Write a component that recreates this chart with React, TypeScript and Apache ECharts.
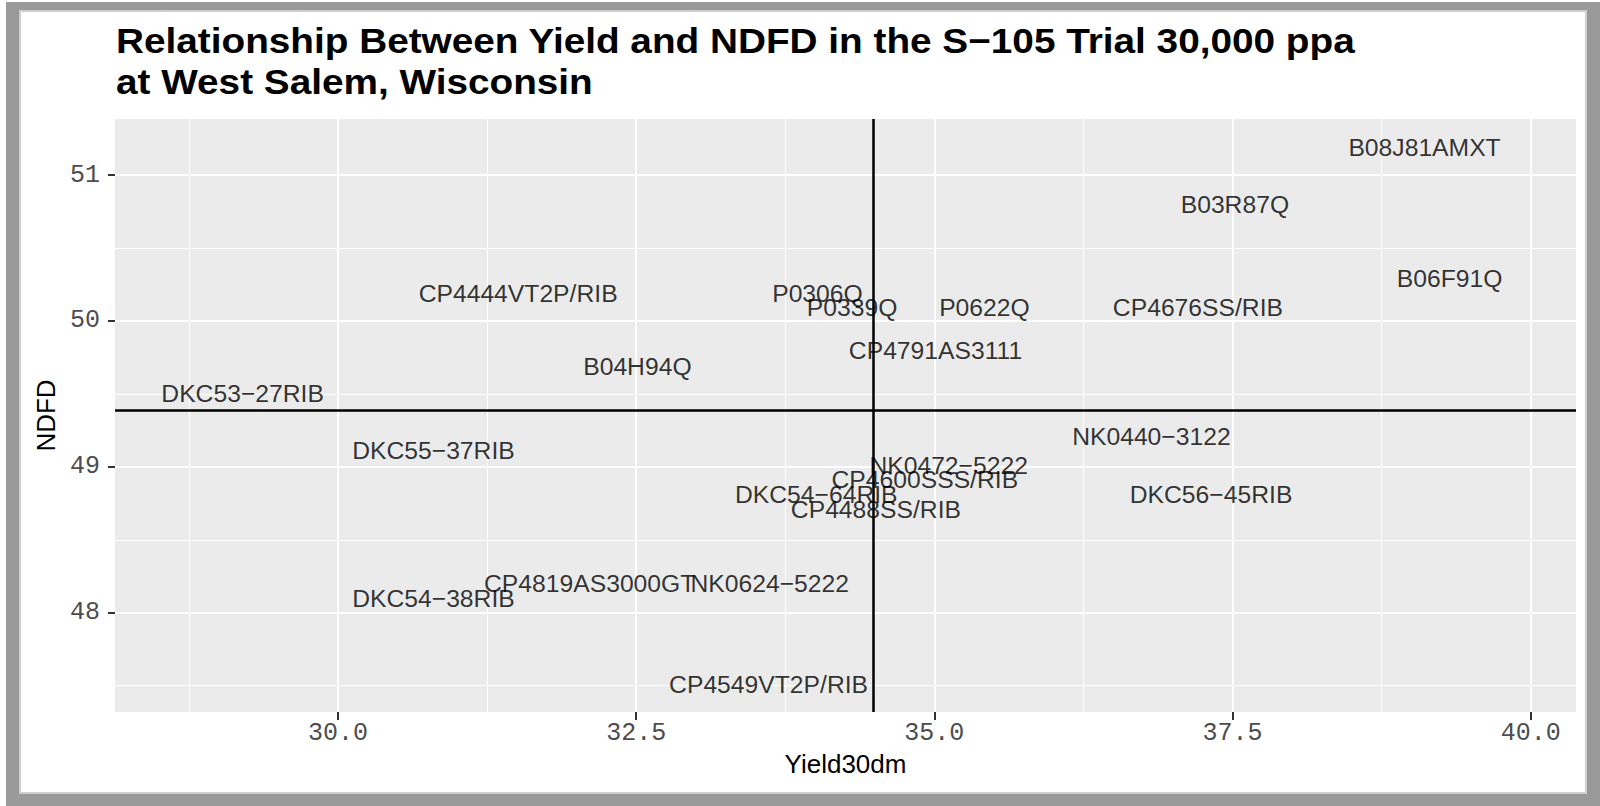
import React, { useEffect, useRef } from "react";
import * as echarts from "echarts";

const titleLines = [
  "Relationship Between Yield and NDFD in the S\u2212105 Trial 30,000 ppa",
  "at West Salem, Wisconsin",
];

const hybrids = [
  "B08J81AMXT",
  "B03R87Q",
  "B06F91Q",
  "CP4676SS/RIB",
  "NK0440\u22123122",
  "DKC56\u221245RIB",
  "P0306Q",
  "P0339Q",
  "P0622Q",
  "CP4791AS3111",
  "B04H94Q",
  "CP4444VT2P/RIB",
  "DKC53\u221227RIB",
  "NK0472\u22125222",
  "CP4600SSS/RIB",
  "DKC54\u221264RIB",
  "CP4488SS/RIB",
  "NK0624\u22125222",
  "CP4549VT2P/RIB",
  "DKC55\u221237RIB",
  "DKC54\u221238RIB",
  "CP4819AS3000GT",
];

const yield30dm = [
  39.11, 37.52, 39.32, 37.21, 36.82, 37.32, 34.02, 34.31, 35.42, 35.01, 32.51,
  31.51, 29.2, 35.12, 34.92, 34.01, 34.51, 33.62, 33.61, 30.8, 30.8, 32.11,
];

const ndfd = [
  51.19, 50.8, 50.29, 50.09, 49.21, 48.81, 50.19, 50.09, 50.09, 49.8, 49.69,
  50.19, 49.5, 49.01, 48.91, 48.81, 48.71, 48.2, 47.51, 49.11, 48.1, 48.2,
];

const xTicks = [30, 32.5, 35, 37.5, 40];
const xMinorTicks = [28.75, 31.25, 33.75, 36.25, 38.75];
const yTicks = [48, 49, 50, 51];
const yMinorTicks = [47.5, 48.5, 49.5, 50.5];
const xRange = [28.13, 40.38];
const yRange = [47.32, 51.384];

const mean = (a: number[]) => a.reduce((s, v) => s + v, 0) / a.length;

export default function App() {
  const ref = useRef<HTMLDivElement>(null);

  useEffect(() => {
    if (!ref.current) return;
    const chart = echarts.init(ref.current, undefined, { renderer: "svg" });

    const gridLines = [
      ...xTicks.map((v) => ({ xAxis: v, lineStyle: { width: 2 } })),
      ...xMinorTicks.map((v) => ({ xAxis: v, lineStyle: { width: 1 } })),
      ...yTicks.map((v) => ({ yAxis: v, lineStyle: { width: 2 } })),
      ...yMinorTicks.map((v) => ({ yAxis: v, lineStyle: { width: 1 } })),
    ];

    const tickLabelStyle = {
      fontFamily: "Liberation Mono",
      fontSize: 25,
      color: "#4D4D4D",
    };
    const nameStyle = {
      fontFamily: "Liberation Sans",
      fontSize: 26,
      color: "#000",
    };

    chart.setOption({
      animation: false,
      backgroundColor: "transparent",
      graphic: [
        {
          type: "text",
          x: 116,
          y: 21,
          scaleX: 1.107,
          silent: true,
          style: {
            text: titleLines.join("\n"),
            fontFamily: "Liberation Sans",
            fontWeight: "bold",
            fontSize: 35,
            lineHeight: 41,
            fill: "#000",
            align: "left",
            verticalAlign: "top",
          },
        },
      ],
      grid: {
        left: 115,
        top: 119,
        width: 1461,
        height: 593,
        show: true,
        backgroundColor: "#EBEBEB",
        borderWidth: 0,
      },
      xAxis: {
        type: "value",
        min: xRange[0],
        max: xRange[1],
        name: "Yield30dm",
        nameLocation: "middle",
        nameGap: 38,
        nameTextStyle: nameStyle,
        axisLine: { show: false },
        axisTick: {
          show: true,
          customValues: xTicks,
          length: 8,
          lineStyle: { color: "#333", width: 2 },
        },
        axisLabel: {
          customValues: xTicks,
          formatter: (v: number) => v.toFixed(1),
          margin: 9,
          ...tickLabelStyle,
        },
        splitLine: { show: false },
      },
      yAxis: {
        type: "value",
        min: yRange[0],
        max: yRange[1],
        name: "NDFD",
        nameLocation: "middle",
        nameGap: 55,
        nameTextStyle: nameStyle,
        axisLine: { show: false },
        axisTick: {
          show: true,
          customValues: yTicks,
          length: 7,
          lineStyle: { color: "#333", width: 2 },
        },
        axisLabel: {
          customValues: yTicks,
          formatter: (v: number) => String(v),
          margin: 15,
          ...tickLabelStyle,
        },
        splitLine: { show: false },
      },
      series: [
        {
          type: "scatter",
          data: [],
          z: 1,
          silent: true,
          markLine: {
            z: 1,
            silent: true,
            symbol: "none",
            label: { show: false },
            lineStyle: { color: "#FFFFFF", type: "solid" },
            data: gridLines,
          },
        },
        {
          type: "scatter",
          z: 5,
          silent: true,
          symbolSize: 1,
          itemStyle: { color: "transparent" },
          data: hybrids.map((n, i) => ({ name: n, value: [yield30dm[i], ndfd[i]] })),
          label: {
            show: true,
            position: "inside",
            formatter: "{b}",
            fontFamily: "Liberation Sans",
            fontSize: 24.7,
            color: "#000",
            align: "center",
            verticalAlign: "middle",
          },
        },
        {
          type: "scatter",
          data: [],
          z: 10,
          silent: true,
          markLine: {
            z: 10,
            silent: true,
            symbol: "none",
            label: { show: false },
            lineStyle: { color: "#000", type: "solid", width: 2.5 },
            data: [{ xAxis: mean(yield30dm) }, { yAxis: mean(ndfd) }],
          },
        },
      ],
    });

    return () => chart.dispose();
  }, []);

  return (
    <div style={{ position: "fixed", left: 0, top: 0, width: 1600, height: 806, background: "#fff" }}>
      <div style={{ position: "absolute", left: 6, top: 2, width: 1594, height: 804, background: "#999999" }} />
      <div style={{ position: "absolute", left: 19, top: 10, width: 1568, height: 784, background: "#cfcfcf" }} />
      <div style={{ position: "absolute", left: 21, top: 12, width: 1564, height: 780, background: "#ffffff" }} />
      <div ref={ref} style={{ position: "absolute", left: 0, top: 0, width: 1600, height: 806 }} />
    </div>
  );
}
